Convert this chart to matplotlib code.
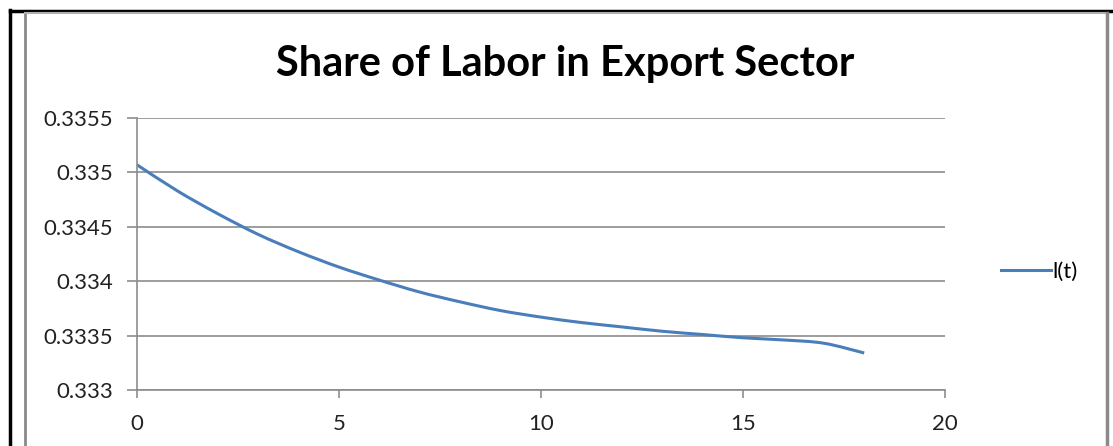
import matplotlib.pyplot as plt
from matplotlib.lines import Line2D
from matplotlib.path import Path
from matplotlib.patches import PathPatch

# Share of labor in export sector, l(t)
t = [0, 1, 2, 3, 4, 5, 6, 7, 8, 9, 10, 11, 12, 13, 14, 15, 16, 17, 18]
l_t = [0.33507, 0.33483, 0.33462, 0.33443, 0.33427, 0.33413, 0.33401,
       0.33390, 0.33381, 0.33373, 0.33367, 0.33362, 0.33358, 0.33354,
       0.33351, 0.33348, 0.33346, 0.33343, 0.33334]
yticks = [0.333, 0.3335, 0.334, 0.3345, 0.335, 0.3355]
ytick_labels = ['0.333', '0.3335', '0.334', '0.3345', '0.335', '0.3355']
xticks = [0, 5, 10, 15, 20]

plt.rcParams['font.family'] = ['Lato', 'DejaVu Sans']
grid_col = '#8c8c8c'
line_col = '#4a7ebb'

fig = plt.figure(figsize=(11.13, 4.46), dpi=100)
ax = fig.add_axes([137/1113, 56/446, 808/1113, 272/446])

# Excel-style smoothed line: cubic bezier segments through the data points
verts = [(t[0], l_t[0])]
codes = [Path.MOVETO]
n = len(t)
for i in range(n - 1):
    p0 = (t[max(i - 1, 0)], l_t[max(i - 1, 0)])
    p1 = (t[i], l_t[i])
    p2 = (t[i + 1], l_t[i + 1])
    p3 = (t[min(i + 2, n - 1)], l_t[min(i + 2, n - 1)])
    c1 = (p1[0] + (p2[0] - p0[0]) / 6, p1[1] + (p2[1] - p0[1]) / 6)
    c2 = (p2[0] - (p3[0] - p1[0]) / 6, p2[1] - (p3[1] - p1[1]) / 6)
    verts += [c1, c2, p2]
    codes += [Path.CURVE4] * 3
ax.add_patch(PathPatch(Path(verts, codes), facecolor='none', edgecolor=line_col,
                       lw=2.2, capstyle='butt'))

ax.set_xlim(0, 20)
ax.set_ylim(0.333, 0.3355)
ax.set_xticks(xticks)
ax.set_yticks(yticks)
ax.set_yticklabels(ytick_labels)
ax.grid(axis='y', color=grid_col, lw=1.2)
ax.set_axisbelow(True)
for s in ['top', 'right']:
    ax.spines[s].set_visible(False)
for s in ['left', 'bottom']:
    ax.spines[s].set_color(grid_col)
    ax.spines[s].set_linewidth(1.2)
ax.tick_params(axis='y', length=7, width=1.2, color=grid_col, pad=10,
               labelsize=16, labelcolor='#222222')
ax.tick_params(axis='x', length=6, width=1.2, color=grid_col, pad=11,
               labelsize=16, labelcolor='#222222')

fig.text(0.508, 0.857, 'Share of Labor in Export Sector', ha='center', va='center',
         fontsize=30, fontweight='bold', color='black')

# legend to the right of the plot
handle = Line2D([], [], color=line_col, lw=2.2)
fig.legend([handle], ['l(t)'], loc='center left', bbox_to_anchor=(0.881, 0.39),
           frameon=False, fontsize=16, handlelength=2.25, handletextpad=0.1)

# page frame: black lines top/left, gray chart border
fig.add_artist(Line2D([10/1113, 10/1113], [0, 1 - 10/446], color='black', lw=2.5,
                      transform=fig.transFigure))
fig.add_artist(Line2D([10/1113, 1], [1 - 11/446, 1 - 11/446], color='black', lw=2.5,
                      transform=fig.transFigure))
fig.add_artist(Line2D([25/1113, 25/1113], [0, 1 - 13/446], color='#8a8a8a', lw=2,
                      transform=fig.transFigure))
fig.add_artist(Line2D([25/1113, 1107/1113], [1 - 13/446, 1 - 13/446], color='#b0b0b0', lw=1.5,
                      transform=fig.transFigure))
fig.add_artist(Line2D([1107/1113, 1107/1113], [0, 1 - 13/446], color='#8a8a8a', lw=2.5,
                      transform=fig.transFigure))

fig.savefig('out.png', dpi=100)
